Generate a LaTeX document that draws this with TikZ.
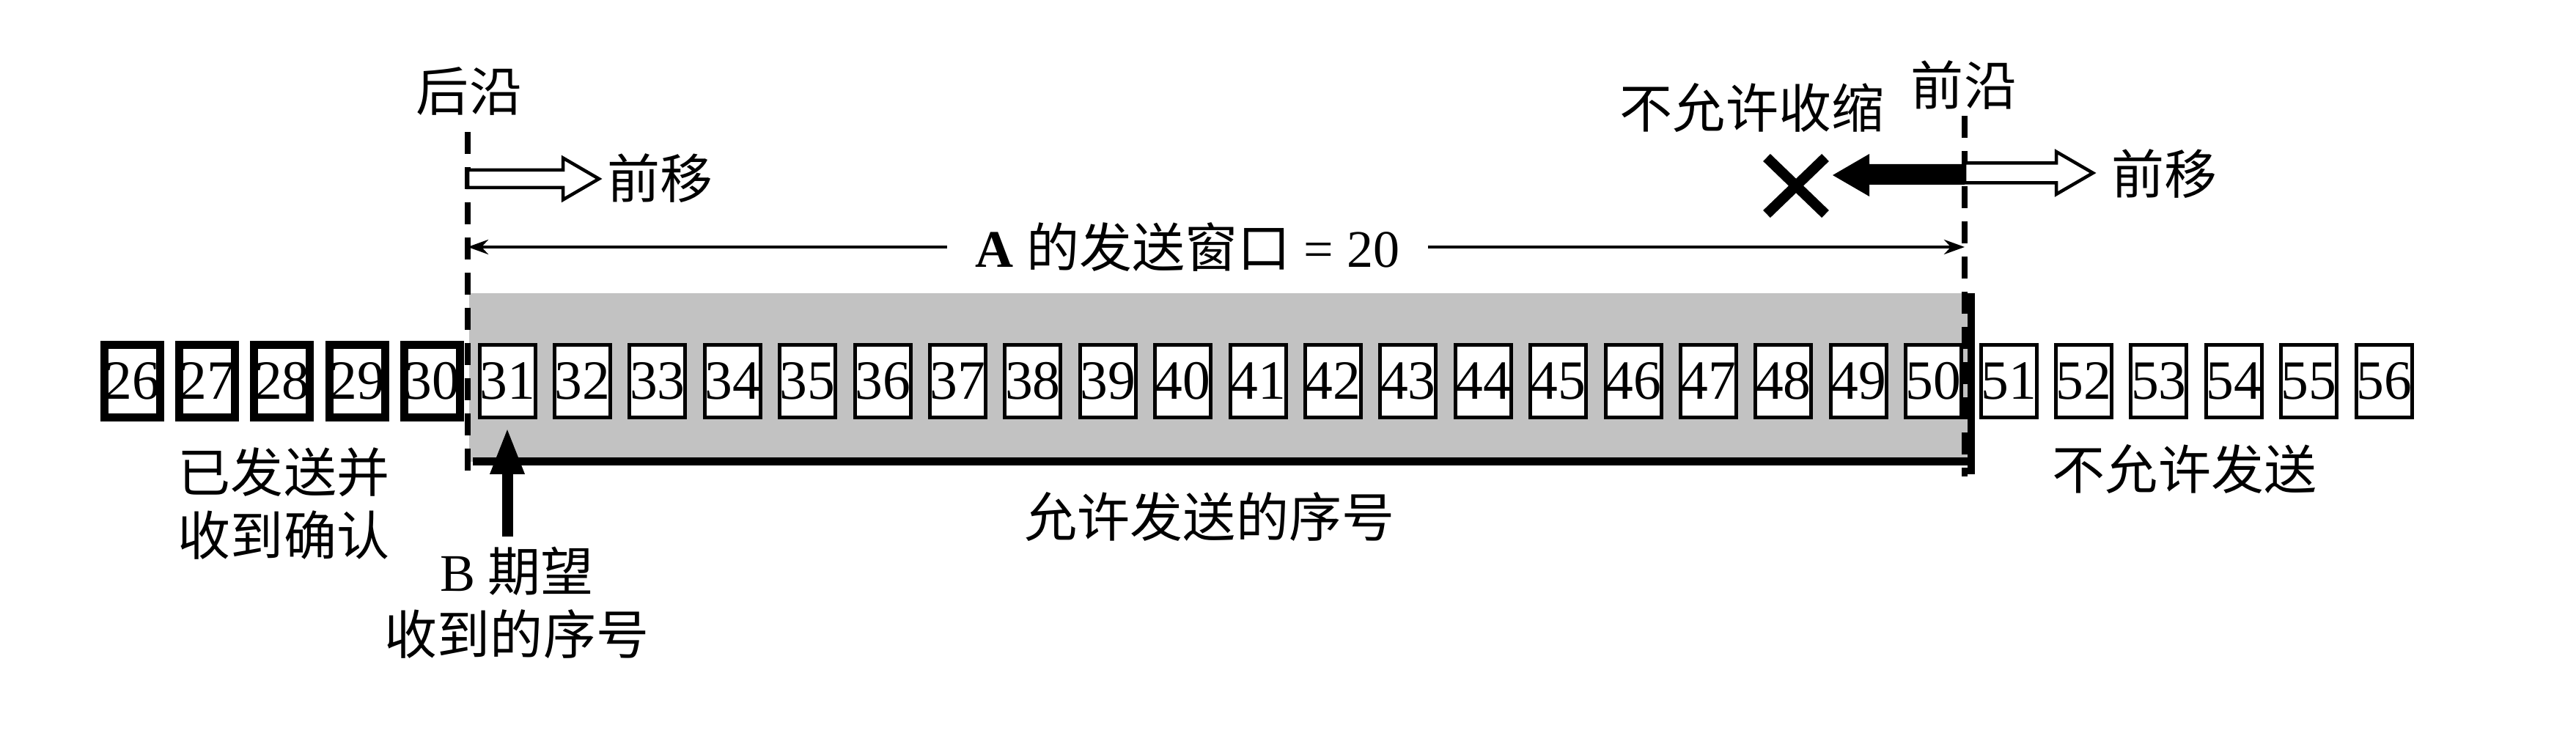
\documentclass[tikz,border=0pt]{standalone}
\usepackage{fontspec}
\setmainfont{Liberation Serif}
\newfontfamily\cjk{Noto Sans CJK SC}
\usetikzlibrary{arrows.meta}
\begin{document}
\begin{tikzpicture}[
  cn/.style={font=\cjk\fontsize{20.5}{24.5}\selectfont, inner sep=0pt},
  num/.style={draw, fill=white, minimum width=0.76cm, minimum height=0.99cm, inner sep=0pt, font=\fontsize{21.5}{21.5}\selectfont},
  ackbox/.style={num, line width=0.11cm},
  seqbox/.style={num, line width=0.05cm},
  edgeline/.style={line width=0.08cm, dash pattern=on 0.3cm off 0.18cm},
  dimline/.style={line width=0.045cm, -{Stealth[length=0.28cm,width=0.2cm]}},
  hollow/.style={line width=0.045cm, fill=white, line join=miter},
  bigarrow/.style={line width=0.15cm, -{Triangle[length=0.64cm,width=0.43cm]}},
]
\useasboundingbox (0,0) rectangle (35.14,10);

% sending window (shaded)
\fill[black!24] (6.40,3.70) rectangle (26.89,6.00);
\draw[line width=0.11cm] (6.45,3.70) -- (26.94,3.70);
\draw[line width=0.10cm] (26.89,6.00) -- (26.89,3.53);

% sequence boxes
\foreach \n in {26,...,30}
  \node[ackbox] (b\n) at ({6.92+(\n-31)*1.024},4.80) {\n};
\foreach \n in {31,...,56}
  \node[seqbox] (b\n) at ({6.92+(\n-31)*1.024},4.80) {\n};

% edges
\node[cn] (trail) at (6.40,8.75) {后沿};
\node[cn] (lead) at (26.79,8.84) {前沿};
\coordinate (ltop) at (6.38,8.20);
\coordinate (lbot) at (6.38,3.50);
\coordinate (rtop) at (26.80,8.42);
\coordinate (rbot) at (26.80,3.50);
\draw[edgeline] (ltop) -- (lbot);
\draw[edgeline] (rtop) -- (rbot);

% window size
\coordinate (dl) at (6.38,6.63);
\coordinate (dr) at (26.80,6.63);
\node[font=\fontsize{20.5}{24.5}\selectfont, inner xsep=0.38cm, inner ysep=0pt] (wlabel) at (16.20,6.63)
  {\textbf{A}~{\cjk 的发送窗口}~=~20};
\draw[dimline] (wlabel.west) -- (dl);
\draw[dimline] (wlabel.east) -- (dr);

% trailing edge moves forward
\draw[hollow] (6.38,7.68) -- (7.68,7.68) -- (7.68,7.845) -- (8.17,7.56) -- (7.68,7.275) -- (7.68,7.44) -- (6.38,7.44) -- cycle;
\node[cn, anchor=west] (fwdl) at (8.28,7.57) {前移};

% leading edge moves forward
\draw[hollow] (26.80,7.775) -- (28.05,7.775) -- (28.05,7.93) -- (28.55,7.64) -- (28.05,7.35) -- (28.05,7.505) -- (26.80,7.505) -- cycle;
\node[cn, anchor=west] (fwdr) at (28.80,7.63) {前移};

% not allowed to shrink
\fill (26.80,7.76) -- (25.50,7.76) -- (25.50,7.90) -- (25.00,7.61) -- (25.50,7.32) -- (25.50,7.48) -- (26.80,7.48) -- cycle;
\draw[line width=0.14cm] (24.10,7.85) -- (24.90,7.08) (24.10,7.08) -- (24.90,7.85);
\node[cn] (noshrink) at (23.90,8.53) {不允许收缩};

% bottom labels
\node[cn, align=center] (acked) at (3.87,3.13) {已发送并\\收到确认};
\node[cn] (allowed) at (16.50,2.95) {允许发送的序号};
\node[cn] (notallowed) at (29.80,3.60) {不允许发送};
\node[cn, align=center] (bexp) at (7.05,1.78) {{\rmfamily B}~期望\\收到的序号};
\coordinate (bstart) at (6.92,2.68);
\draw[bigarrow, shorten >=0.11cm] (bstart) -- (b31.south);
\end{tikzpicture}
\end{document}
